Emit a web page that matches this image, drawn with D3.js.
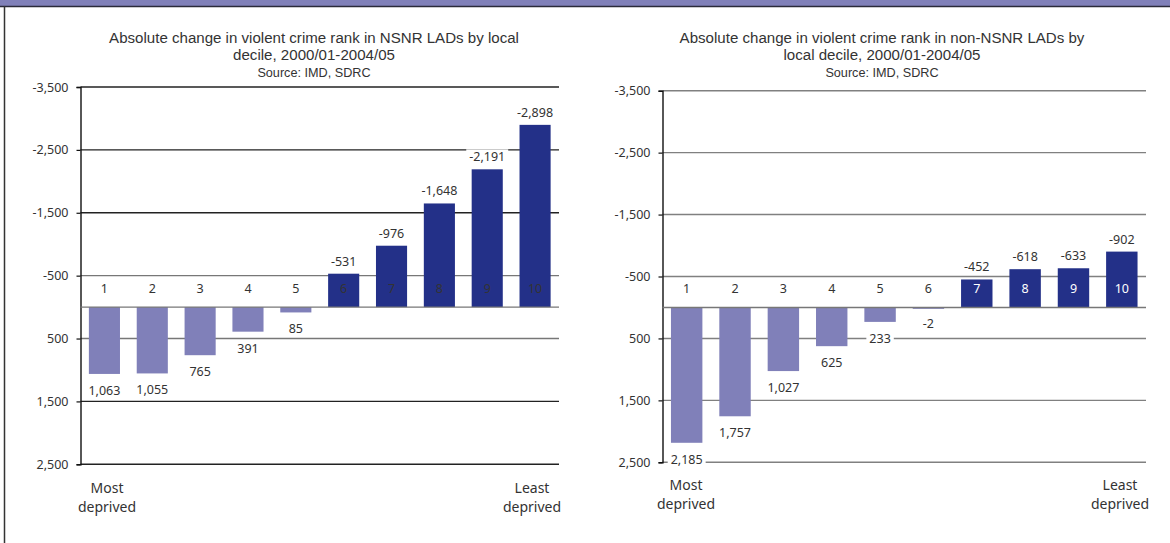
<!DOCTYPE html>
<html><head><meta charset="utf-8">
<script src="https://cdn.jsdelivr.net/npm/d3@7"></script>
<style>body{margin:0;background:#fff;}svg{display:block;font-family:"Noto Sans",sans-serif;}</style>
</head><body><svg id="c" width="1170" height="543"></svg>
<script>
const deciles = ["1","2","3","4","5","6","7","8","9","10"];
const nsnrValues = [1063, 1055, 765, 391, 85, -531, -976, -1648, -2191, -2898];
const nonNsnrValues = [2185, 1757, 1027, 625, 233, -2, -452, -618, -633, -902];
const yTicks = [-3500, -2500, -1500, -500, 500, 1500, 2500];
const titleNsnr = ["Absolute change in violent crime rank in NSNR LADs by local", "decile, 2000/01-2004/05"];
const titleNon = ["Absolute change in violent crime rank in non-NSNR LADs by", "local decile, 2000/01-2004/05"];
const sourceText = "Source: IMD, SDRC";

const svg = d3.select("#c");
svg.append("rect").attr("x",0).attr("y",0).attr("width",1170).attr("height",6).attr("fill","#8080b9");
svg.append("line").attr("x1",0).attr("x2",1170).attr("y1",6.5).attr("y2",6.5).attr("stroke","#2a2a3a").attr("stroke-width",1.5);
svg.append("line").attr("x1",4.5).attr("x2",4.5).attr("y1",6).attr("y2",543).attr("stroke","#333").attr("stroke-width",1.5);

const fmt0 = d3.format(",");
const fmt = v => fmt0(v).replace("\u2212","-");
const titleFont = "'Liberation Sans',Arial,sans-serif";

function panel(o){
  const x = d3.scaleBand().domain(deciles).range([o.x0,o.x1]).paddingInner(0.35).paddingOuter(0.175);
  const y = d3.scaleLinear().domain([-3500,2500]).range([o.yTop,o.yBot]);
  const g = svg.append("g");
  // title (font size fitted to the reference line width)
  const tl = o.title.map((t,i)=>g.append("text").attr("x",o.tx).attr("y",43+i*17).attr("text-anchor","middle")
     .attr("font-family",titleFont).attr("font-size",14).attr("fill","#333").text(t));
  const w = tl[0].node().getComputedTextLength();
  const fs = Math.min(15.5, 14*o.titleW/w);
  tl.forEach(t=>t.attr("font-size",fs));
  g.append("text").attr("x",o.tx).attr("y",76.5).attr("text-anchor","middle")
   .attr("font-family",titleFont).attr("font-size",fs*0.84).attr("fill","#333").text(sourceText);
  // gridlines
  g.selectAll(".grid").data(yTicks).enter().append("line")
   .attr("x1",o.x0).attr("x2",o.x1).attr("y1",d=>y(d)).attr("y2",d=>y(d))
   .attr("stroke",d=>o.gridColor(d)).attr("stroke-width",1.4);
  // y axis
  const ax = d3.axisLeft(y).tickValues(yTicks).tickSize(4).tickPadding(8).tickFormat(fmt);
  const ag = g.append("g").attr("transform",`translate(${o.x0},0)`).call(ax);
  ag.select(".domain").attr("stroke","#111").attr("stroke-width",1.4);
  ag.selectAll(".tick line").attr("stroke","#111").attr("stroke-width",1.2);
  ag.selectAll(".tick text").attr("font-size",12.5).attr("fill","#333").attr("font-family","'Noto Sans',sans-serif");
  // bars
  const data = deciles.map((d,i)=>({k:d,v:o.values[i]}));
  const isDark = d => d.v<0 && Math.abs(d.v)>o.darkMin;
  g.selectAll(".bar").data(data).enter().append("rect")
   .attr("x",d=>x(d.k)).attr("width",x.bandwidth())
   .attr("y",d=>y(Math.min(0,d.v))).attr("height",d=>Math.max(1.5,Math.abs(y(d.v)-y(0))))
   .attr("fill",d=>isDark(d) ? "#233088" : "#8080b9");
  // zero line
  g.append("line").attr("x1",o.x0).attr("x2",o.x1).attr("y1",y(0)).attr("y2",y(0))
   .attr("stroke","#777").attr("stroke-width",1.4);
  // category labels
  g.selectAll(".cat").data(data).enter().append("text")
   .attr("x",d=>x(d.k)+x.bandwidth()/2).attr("y",y(-300)+4.5).attr("text-anchor","middle")
   .attr("font-size",12.5)
   .attr("fill",d=>(o.whiteCats && isDark(d))?"#fff":"#333").text(d=>d.k);
  // value labels with white background
  const vl = g.selectAll(".val").data(data).enter().append("g")
   .attr("transform",d=>{
     const cx = x(d.k)+x.bandwidth()/2;
     const cy = isDark(d) ? y(d.v)-12.5 : y(Math.max(d.v,0))+16.5;
     return `translate(${cx},${cy})`;
   });
  vl.each(function(d){
    const s = d3.select(this);
    const t = s.append("text").attr("text-anchor","middle").attr("y",4.5)
      .attr("font-size",12.5).attr("fill","#333").text(fmt(d.v));
    const bb = t.node().getBBox();
    s.insert("rect","text").attr("x",bb.x-3).attr("y",bb.y+1).attr("width",bb.width+6).attr("height",bb.height-2).attr("fill","#fff");
  });
  // end labels
  ["Most","deprived"].forEach((t,i)=>g.append("text").attr("x",o.mostX).attr("y",o.endY+i*19).attr("text-anchor","middle")
      .attr("font-size",14).attr("fill","#333").text(t));
  ["Least","deprived"].forEach((t,i)=>g.append("text").attr("x",o.leastX).attr("y",o.endY+i*19).attr("text-anchor","middle")
      .attr("font-size",14).attr("fill","#333").text(t));
}

panel({x0:80.5,x1:559,yTop:87,yBot:464.3,tx:314,titleW:410,title:titleNsnr,values:nsnrValues,darkMin:100,whiteCats:false,
  gridColor:d=>(d===-500||d===500)?"#777":"#222",mostX:107,leastX:532,endY:493});
panel({x0:662.5,x1:1146,yTop:90.7,yBot:462.3,tx:882,titleW:405,title:titleNon,values:nonNsnrValues,darkMin:100,whiteCats:true,
  gridColor:d=>"#808080",mostX:686,leastX:1120,endY:490});
</script></body></html>
